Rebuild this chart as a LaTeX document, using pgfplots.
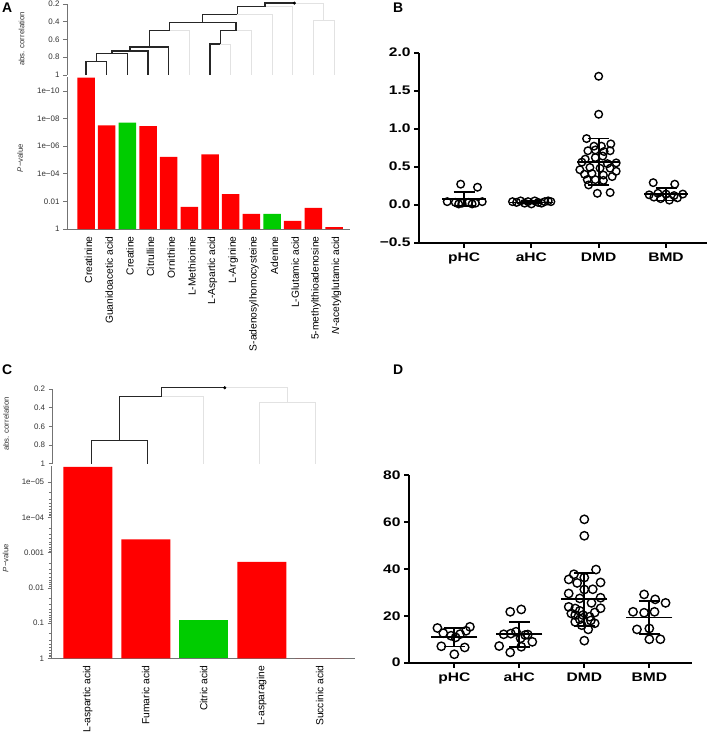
\documentclass[border=0pt]{standalone}
\usepackage{pgfplots}
\pgfplotsset{compat=1.18}
\usepackage{fontspec}
\setmainfont{Liberation Sans}
\newfontfamily\prism[FakeStretch=1.25]{Liberation Sans}

\definecolor{pred}{HTML}{FF0000}
\definecolor{pgreen}{HTML}{00CC00}
\definecolor{dgray}{HTML}{E2E2E2}

\pgfplotsset{
  rbase/.style={scale only axis, clip=false, tick align=outside, major tick length=4bp,
    axis line style={black!55, line width=0.6bp}, tick style={black!55, line width=0.6bp},
    yticklabel style={font=\fontsize{8}{9}\selectfont, text=black!80}},
  dend/.style={rbase, axis y line*=left, axis x line=none, y dir=reverse, ymin=0.2, ymax=1,
    ytick={0.2,0.4,0.6,0.8,1}, yticklabels={0.2,0.4,0.6,0.8,1}},
  dk/.style={black!85, line width=1.5bp, unbounded coords=jump, mark=none},
  lt/.style={dgray, line width=0.8bp, unbounded coords=jump, mark=none},
  pbar/.style={rbase, axis y line*=left, axis x line*=bottom,
    xticklabel style={rotate=90, anchor=east, font=\fontsize{10.3}{11}\selectfont},
    major x tick style={draw=none}},
  prism/.style={scale only axis, clip=false, axis lines*=left,
    axis line style={line width=1.8bp}, tick align=outside, major tick length=5bp,
    tick style={black, line width=1.8bp},
    ticklabel style={font=\prism\bfseries\fontsize{12.5}{13}\selectfont},
    xticklabel style={yshift=-2bp},
    xtick={1,2,3,4}, xticklabels={pHC,aHC,DMD,BMD}},
  dots/.style={only marks, mark=o, mark size=#1, mark options={line width=1.4bp, black}},
  dots/.default=3.8bp,
  msd/.style={only marks, black, mark=-, mark size=#1, mark options={line width=1.8bp},
    error bars/y dir=both, error bars/y explicit, error bars/error mark=|,
    error bars/error mark options={mark size=10.5bp, line width=1.8bp, black},
    error bars/error bar style={line width=1.8bp, black}},
  msd/.default=21.7bp,
}

\begin{document}
\begin{tikzpicture}
\path[use as bounding box] (0,0) rectangle (709bp,-734bp);

% ---------------- A: dendrogram ----------------
\begin{axis}[dend, at={(67bp,-75bp)}, anchor=south west, width=283bp, height=71bp,
  xmin=0.08, xmax=13.77]
\addplot[lt] coordinates {(5.03,0.5)(6,0.5)(6,1) (nan,nan) (7.5,0.65)(8,0.65)(8,1)
  (nan,nan) (8.25,0.5)(9,0.5)(9,1) (nan,nan) (8.32,0.316)(10,0.316)(10,1)
  (nan,nan) (9.66,0.23)(11,0.23)(11,1) (nan,nan) (11.08,0.19)(12.5,0.19)(12.5,0.388)
  (nan,nan) (12,1)(12,0.388)(13,0.388)(13,1)};
\addplot[dk] coordinates {(1,1)(1,0.85)(2,0.85)(2,1) (nan,nan) (1.5,0.85)(1.5,0.756)(3,0.756)(3,1)
  (nan,nan) (2.25,0.756)(2.25,0.73)(4,0.73)(4,1) (nan,nan) (3.125,0.73)(3.125,0.685)(5,0.685)(5,1)
  (nan,nan) (4.0625,0.685)(4.0625,0.5)(5.03,0.5) (nan,nan) (7,1)(7,0.65)(7.5,0.65)
  (nan,nan) (7.5,0.65)(7.5,0.5)(8.25,0.5) (nan,nan) (5.03,0.5)(5.03,0.407)(8.25,0.407)(8.25,0.5)
  (nan,nan) (6.64,0.407)(6.64,0.316)(8.32,0.316) (nan,nan) (8.32,0.316)(8.32,0.23)(9.66,0.23)
  (nan,nan) (9.66,0.23)(9.66,0.19)(11.08,0.19)};
\addplot[only marks, mark=*, mark size=1.3bp, black] coordinates {(11.08,0.19)};
\end{axis}

% ---------------- A: P-values ----------------
\begin{axis}[pbar, ymode=log, y dir=reverse, at={(67bp,-229bp)}, anchor=south west,
  width=283bp, height=152bp,
  xmin=0.08, xmax=13.77, ymin=1e-11, ymax=1,
  ytick={1e-10,1e-8,1e-6,1e-4,1e-2,1}, yticklabels={1e−10,1e−08,1e−06,1e−04,0.01,1},
  xtick={1,...,13},
  xticklabels={Creatinine,Guanidoacetic acid,Creatine,Citrulline,Ornithine,L-Methionine,
    L-Aspartic acid,L-Arginine,S-adenosylhomocysteine,Adenine,L-Glutamic acid,
    5-methylthioadenosine,\textit{N}-acetylglutamic acid},
  xticklabel style={yshift=-2.5bp}]
\addplot[ybar, bar width=17.5bp, fill=pred, draw=none] coordinates {
  (1,1.1e-11) (2,3.2e-8) (4,3.6e-8) (5,6e-6) (6,0.025) (7,4e-6) (8,3e-3)
  (9,0.08) (11,0.26) (12,0.03) (13,0.74)};
\addplot[ybar, bar width=17.5bp, fill=pgreen, draw=none] coordinates {
  (3,2e-8) (10,0.08)};
\end{axis}

% ---------------- C: dendrogram ----------------
\begin{axis}[dend, at={(52.7bp,-463.7bp)}, anchor=south west, width=302.3bp, height=74.7bp,
  xmin=0.304, xmax=5.70]
\addplot[lt] coordinates {(2.25,0.28)(3,0.28)(3,1) (nan,nan) (3.375,0.186)(4.5,0.186)(4.5,0.346)
  (nan,nan) (4,1)(4,0.346)(5,0.346)(5,1)};
\addplot[dk] coordinates {(1,1)(1,0.754)(2,0.754)(2,1) (nan,nan) (1.5,0.754)(1.5,0.28)(2.25,0.28)
  (nan,nan) (2.25,0.28)(2.25,0.186)(3.375,0.186)};
\addplot[only marks, mark=*, mark size=1.3bp, black] coordinates {(3.375,0.186)};
\end{axis}

% ---------------- C: P-values ----------------
\begin{axis}[pbar, ymode=log, y dir=reverse, at={(51.7bp,-658.3bp)}, anchor=south west,
  width=303.3bp, height=192.3bp,
  xmin=0.378, xmax=5.607, ymin=3.5e-6, ymax=1,
  ytick={1e-5,1e-4,1e-3,1e-2,1e-1,1}, yticklabels={1e−05,1e−04,0.001,0.01,0.1,1},
  xtick={1,...,5},
  xticklabels={L-aspartic acid,Fumaric acid,Citric acid,L-asparagine,Succinic acid}]
\addplot[ybar, bar width=49bp, fill=pred, draw=none] coordinates {
  (1,3.7e-6) (2,4.2e-4) (4,1.85e-3) (5,1)};
\addplot[ybar, bar width=49bp, fill=pgreen, draw=none] coordinates {(3,0.08)};
\end{axis}

% ---------------- B ----------------
\begin{axis}[prism, at={(419bp,-242.7bp)}, anchor=south west, width=288bp, height=190bp,
  xmin=0.331, xmax=4.609, ymin=-0.5, ymax=2,
  ytick={-0.5,0,0.5,1,1.5,2}, yticklabels={−0.5,0.0,0.5,1.0,1.5,2.0}]
\addplot[dots] coordinates {(0.95,0.27)(1.20,0.23)(0.75,0.04)(0.87,0.03)(0.97,0.02)
  (1.07,0.03)(1.17,0.02)(1.27,0.04)(0.92,0.01)(1.12,0.01)};
\addplot[dots] coordinates {(1.72,0.04)(1.78,0.03)(1.84,0.05)(1.90,0.02)(1.95,0.04)(2.00,0.01)
  (2.05,0.05)(2.10,0.03)(2.15,0.02)(2.20,0.04)(2.25,0.05)(2.29,0.04)};
\addplot[dots] coordinates {(3.00,1.69)(3.00,1.19)(2.82,0.87)(3.18,0.80)(2.93,0.77)(3.04,0.77)
  (2.84,0.71)(2.95,0.72)(3.08,0.70)(3.17,0.71)(2.80,0.60)(2.95,0.62)(3.06,0.64)(2.75,0.56)
  (3.13,0.54)(3.26,0.55)(2.72,0.46)(2.87,0.49)(3.02,0.48)(3.17,0.48)(3.26,0.44)(2.79,0.40)
  (2.90,0.41)(3.07,0.39)(3.20,0.37)(2.83,0.33)(2.95,0.33)(3.07,0.32)(2.85,0.26)(2.98,0.15)
  (3.17,0.16)};
\addplot[dots] coordinates {(3.81,0.29)(4.13,0.27)(3.75,0.13)(3.88,0.15)(4.00,0.14)(4.12,0.12)
  (4.25,0.14)(3.92,0.08)(4.05,0.06)(4.17,0.09)(3.82,0.10)};
\addplot[msd] coordinates {(1,0.08) +- (0,0.092) (2,0.03) +- (0,0.015)
  (3,0.565) +- (0,0.305) (4,0.14) +- (0,0.085)};
\end{axis}

% ---------------- D ----------------
\begin{axis}[prism, at={(409bp,-662.7bp)}, anchor=south west, width=282.7bp, height=187.7bp,
  xmin=0.303, xmax=4.652, ymin=0, ymax=80,
  ytick={0,20,40,60,80}, yticklabels={0,20,40,60,80}]
\addplot[dots=4.2bp] coordinates {(0.74,14.8)(1.24,15.3)(0.83,12.6)(0.95,11.5)(1.09,12.2)
  (1.18,13.6)(1.02,10.8)(0.80,7.0)(1.16,6.5)(1.00,3.6)};
\addplot[dots=4.2bp] coordinates {(1.86,21.7)(2.03,22.7)(1.76,12.1)(1.87,12.4)(1.95,13.2)
  (2.09,11.8)(2.02,10.4)(2.13,12.0)(2.20,8.9)(1.69,7.1)(2.03,6.8)(1.86,4.4)};
\addplot[dots=4.2bp] coordinates {(3.00,61.1)(3.00,54.1)(3.18,39.7)(2.84,37.7)(3.00,36.3)
  (2.76,35.5)(2.89,34.0)(3.25,34.2)(3.00,31.2)(3.13,31.3)(2.76,29.5)(3.25,27.7)(2.93,27.4)
  (3.11,25.5)(2.76,23.8)(2.86,23.1)(3.25,23.2)(2.93,22.1)(3.16,21.4)(2.86,20.3)(2.98,20.3)
  (3.08,19.6)(2.86,17.4)(3.16,16.8)(2.96,16.0)(3.06,14.2)(3.00,9.4)(2.93,18.5)(3.10,18.0)
  (2.80,21.0)};
\addplot[dots=4.2bp] coordinates {(3.92,29.1)(4.09,27.0)(4.25,25.5)(3.75,21.7)(3.92,21.3)
  (4.08,21.7)(3.81,14.2)(4.00,14.6)(4.00,10.0)(4.17,10.0)};
\addplot[msd=23bp] coordinates {(1,10.8) +- (0,3.9) (2,12.1) +- (0,5.4)
  (3,27.0) +- (0,11.3) (4,19.3) +- (0,7.1)};
\end{axis}

% ---------------- labels ----------------
\node[anchor=north west, inner sep=0pt, font=\bfseries\fontsize{14}{14}\selectfont] at (2bp,-3bp) {A};
\node[anchor=north west, inner sep=0pt, font=\bfseries\fontsize{14}{14}\selectfont] at (393bp,-3bp) {B};
\node[anchor=north west, inner sep=0pt, font=\bfseries\fontsize{14}{14}\selectfont] at (2bp,-365bp) {C};
\node[anchor=north west, inner sep=0pt, font=\bfseries\fontsize{14}{14}\selectfont] at (393bp,-365bp) {D};
\node[rotate=90, font=\fontsize{7.8}{9}\selectfont, text=black!80] at (21.5bp,-39bp) {abs. correlation};
\node[rotate=90, font=\fontsize{7.8}{9}\selectfont, text=black!80] at (20bp,-158bp) {\textit{P}−value};
\node[rotate=90, font=\fontsize{7.8}{9}\selectfont, text=black!80] at (6bp,-424bp) {abs. correlation};
\node[rotate=90, font=\fontsize{7.8}{9}\selectfont, text=black!80] at (5.5bp,-558bp) {\textit{P}−value};
\end{tikzpicture}
\end{document}
